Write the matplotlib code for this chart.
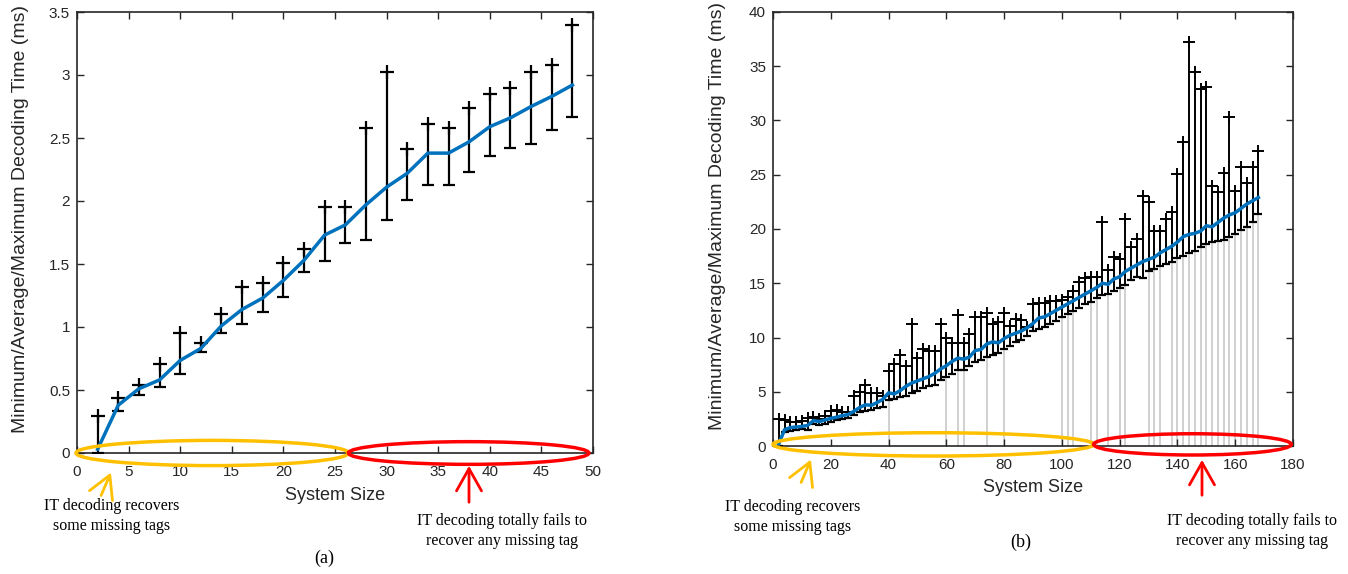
import matplotlib
matplotlib.use('Agg')
import matplotlib.pyplot as plt
import numpy as np
from matplotlib.patches import Ellipse, FancyArrowPatch

plt.rcParams['font.family'] = ['Liberation Sans', 'DejaVu Sans']

W, H = 1348, 574

# (a) system size 2..48
xa = list(range(2, 49, 2))
max_a = [0.29, 0.44, 0.54, 0.71, 0.955, 0.87, 1.10, 1.32, 1.35, 1.51, 1.62, 1.95,
         1.95, 2.58, 3.02, 2.41, 2.61, 2.58, 2.74, 2.85, 2.90, 3.02, 3.08, 3.40]
avg_a = [0.03, 0.38, 0.51, 0.58, 0.735, 0.83, 1.01, 1.14, 1.23, 1.37, 1.53, 1.73,
         1.81, 1.97, 2.11, 2.22, 2.38, 2.38, 2.47, 2.59, 2.66, 2.75, 2.83, 2.92]
min_a = [0.0, 0.33, 0.46, 0.52, 0.625, 0.80, 0.95, 1.02, 1.12, 1.24, 1.44, 1.52,
         1.67, 1.69, 1.85, 2.01, 2.13, 2.13, 2.23, 2.36, 2.42, 2.45, 2.56, 2.67]

# (b) system size 2..168
xb = list(range(2, 169, 2))
max_b = [2.5, 2.4, 2.2, 2.2, 2.3, 2.6, 2.7, 2.5, 2.8, 3.2, 3.3, 3.1, 3.1, 4.6, 5.0, 5.6, 4.9, 4.9, 4.6, 6.9,
         7.6, 8.4, 7.4, 11.2, 8.1, 8.9, 8.8, 8.8, 11.2, 10.0, 9.5, 12.1, 9.5, 10.3, 11.9, 11.9, 12.3, 11.2, 11.4, 12.3,
         11.1, 11.7, 11.6, 11.0, 13.1, 13.2, 13.2, 13.4, 13.4, 13.5, 13.7, 14.3, 15.1, 15.5, 15.6, 15.6, 20.6, 16.2, 17.4, 17.2,
         20.9, 18.3, 19.1, 23.0, 22.5, 19.8, 19.8, 20.9, 21.6, 25.1, 28.0, 37.2, 34.5, 32.9, 33.1, 24.0, 23.4, 25.2, 30.3, 23.5,
         25.7, 24.2, 25.7, 27.2]
avg_b = [0.2, 1.5, 1.7, 1.75, 1.8, 1.9, 2.35, 2.25, 2.4, 2.55, 2.65, 2.8, 2.9, 3.2, 3.55, 3.8, 3.75, 4.0, 4.3, 4.9,
         4.8, 5.1, 5.5, 5.8, 6.0, 6.2, 6.4, 6.7, 7.1, 7.4, 7.8, 8.1, 8.0, 8.2, 8.8, 8.9, 9.4, 9.6, 9.5, 9.9,
         10.2, 10.4, 10.6, 10.9, 11.3, 11.8, 11.9, 12.2, 12.5, 12.8, 13.1, 13.4, 13.7, 14.0, 14.3, 14.6, 15.0, 14.9, 15.4, 15.6,
         16.1, 16.4, 16.7, 17.0, 17.2, 17.4, 17.8, 18.1, 18.4, 18.8, 19.3, 19.5, 19.6, 19.8, 20.3, 20.2, 20.6, 21.0, 21.3, 21.5,
         21.9, 22.3, 22.6, 22.9]
min_b = [0.0, 1.3, 1.4, 1.5, 1.6, 1.5, 2.0, 1.9, 2.0, 2.2, 2.4, 2.5, 2.6, 2.9, 3.1, 3.2, 3.3, 3.5, 3.6, 4.2,
         4.3, 4.5, 4.6, 4.9, 5.1, 5.3, 5.5, 5.6, 6.1, 6.4, 6.6, 7.0, 7.0, 7.4, 7.7, 7.9, 8.2, 8.4, 8.6, 8.9,
         9.2, 9.6, 9.8, 10.1, 10.6, 10.8, 11.0, 11.2, 11.5, 11.9, 12.2, 12.4, 12.7, 13.1, 13.3, 13.6, 13.9, 14.0, 14.3, 14.6,
         14.8, 15.3, 15.6, 15.5, 16.1, 16.3, 16.6, 16.8, 17.0, 17.3, 17.5, 17.8, 18.0, 18.3, 18.6, 18.8, 18.9, 19.0, 19.3, 19.5,
         19.9, 20.2, 20.6, 21.4]
# sizes where a light grey stem reaches down to zero
grey_b = [40, 60, 64, 66, 74, 80, 100, 102, 104, 110, 112, 116, 120, 122, 130, 132, 134, 138,
          140, 142, 144, 146, 148, 150, 152, 154, 156, 158, 160, 162, 164, 166, 168]

ylabel = 'Minimum/Average/Maximum Decoding Time (ms)'
txt_ok = 'IT decoding recovers\nsome missing tags'
txt_fail = 'IT decoding totally fails to\nrecover any missing tag'
YEL, RED, BLUE = '#FFC000', '#FF0000', '#0072BD'


def fpos(px, py):
    return px / W, 1 - py / H


def style(ax, xpad, lab_x, lab_y):
    ax.tick_params(direction='in', top=True, right=True, length=5, width=1,
                   labelsize=11, labelcolor='#262626', color='#262626', pad=5)
    ax.tick_params(axis='x', pad=xpad)
    for s in ax.spines.values():
        s.set_linewidth(1.2)
        s.set_color('#262626')
    ax.set_xlabel('System Size', fontsize=13, color='#262626')
    ax.set_ylabel(ylabel, fontsize=14, color='#262626')
    ax.xaxis.set_label_coords(0.5, lab_y)
    ax.xaxis.label.set_va('center')
    ax.yaxis.set_label_coords(lab_x, 0.53)
    ax.yaxis.label.set_va('center')


fig = plt.figure(figsize=(W / 100, H / 100), dpi=100)

# ---- (a)
ax1 = fig.add_axes([77 / W, 1 - 453 / H, (593 - 77) / W, (453 - 12) / H])
ax1.vlines(xa, min_a, max_a, colors='k', lw=1.6, zorder=2)
ax1.plot(xa, max_a, '+', color='k', ms=10, mew=1.6, zorder=3)
ax1.plot(xa, min_a, '_', color='k', ms=9, mew=1.6, zorder=3)
ax1.plot(xa, avg_a, color=BLUE, lw=2.5, zorder=4)
ax1.set_xlim(0, 50)
ax1.set_ylim(0, 3.5)
ax1.set_xticks(np.arange(0, 51, 5))
ax1.set_yticks(np.arange(0, 3.51, 0.5))
ax1.set_yticklabels(['0', '0.5', '1', '1.5', '2', '2.5', '3', '3.5'])
style(ax1, 9, (21 - 77) / 516, -(495 - 453) / 441)
ax1.add_patch(Ellipse((13.1, 0), 26.4, 0.2, fill=False, ec=YEL, lw=2.5, clip_on=False, zorder=5))
ax1.add_patch(Ellipse((37.95, 0), 23.3, 0.18, fill=False, ec=RED, lw=2.5, clip_on=False, zorder=5))

# ---- (b)
ax2 = fig.add_axes([773 / W, 1 - 446 / H, (1293 - 773) / W, (446 - 12) / H])
gmin = [min_b[xb.index(g)] for g in grey_b]
ax2.vlines(grey_b, 0, gmin, colors='#c8c8c8', lw=1.2, zorder=1)
ax2.vlines(xb, min_b, max_b, colors='k', lw=1.4, zorder=2)
ax2.plot(xb, max_b, '+', color='k', ms=9, mew=1.4, zorder=3)
ax2.plot(xb, min_b, '_', color='k', ms=6, mew=1.6, zorder=3)
ax2.plot(xb, avg_b, color=BLUE, lw=2.5, zorder=4)
ax2.set_xlim(0, 180)
ax2.set_ylim(0, 40)
ax2.set_xticks(np.arange(0, 181, 20))
ax2.set_yticks(np.arange(0, 41, 5))
style(ax2, 8.5, (718 - 773) / 520, -(487 - 446) / 434)
ax2.add_patch(Ellipse((55.5, 0.15), 111, 2.15, fill=False, ec=YEL, lw=2.5, clip_on=False, zorder=5))
ax2.add_patch(Ellipse((145.2, 0.15), 68.4, 1.96, fill=False, ec=RED, lw=2.5, clip_on=False, zorder=5))

# ---- arrows and notes
arrows = [((100, 498), (112, 470), YEL), ((469, 505), (469, 463), RED),
          ((800, 485), (812, 457), YEL), ((1202, 498), (1202, 457), RED)]
for tail, tip, c in arrows:
    fig.patches.append(FancyArrowPatch(fpos(*tail), fpos(*tip), transform=fig.transFigure,
                                       arrowstyle='->,head_length=0.8,head_width=0.45',
                                       mutation_scale=20, color=c, lw=2))

notes = [((112, 516), txt_ok), ((502, 531), txt_fail),
         ((793, 517), txt_ok), ((1252, 531), txt_fail)]
for (px, py), t in notes:
    fig.text(*fpos(px, py), t, ha='center', va='center', fontsize=11.5,
             family='Liberation Serif', linespacing=1.4)

fig.text(*fpos(324, 558), '(a)', ha='center', va='center', fontsize=13, family='Liberation Serif')
fig.text(*fpos(1021, 542), '(b)', ha='center', va='center', fontsize=13, family='Liberation Serif')

fig.savefig('out.png', dpi=100)
